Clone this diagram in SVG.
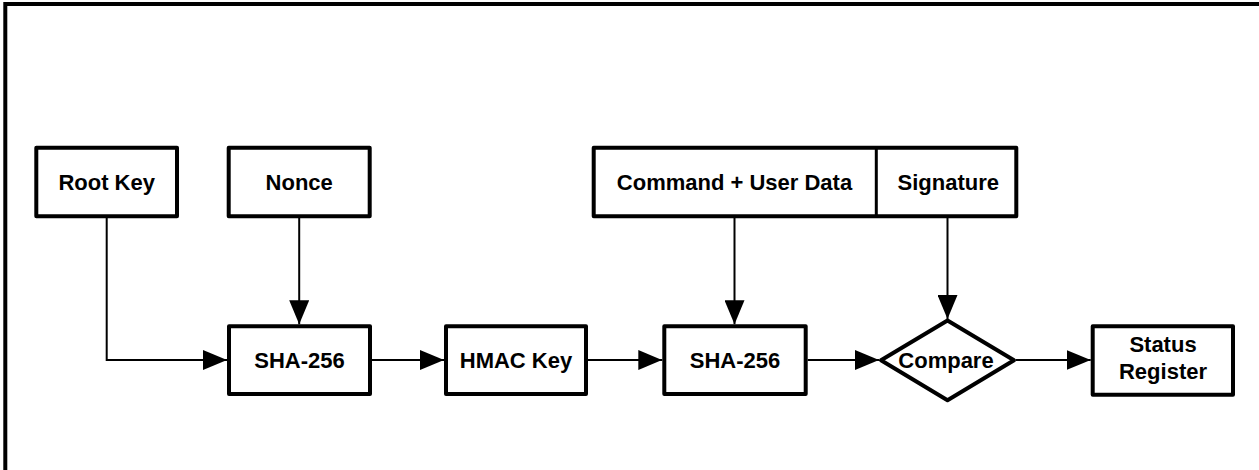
<svg xmlns="http://www.w3.org/2000/svg" width="1259" height="470" viewBox="0 0 1259 470">
<style>
.box{fill:#fff;stroke:#000;stroke-width:4;stroke-linejoin:round}
.lbl{font-family:"Liberation Sans",Arial,sans-serif;font-weight:bold;font-size:22px;fill:#000;text-anchor:middle}
.con{fill:none;stroke:#000;stroke-width:2}
</style>
<defs>
<marker id="arr" markerUnits="userSpaceOnUse" markerWidth="24" markerHeight="20" refX="24" refY="10" orient="auto">
<polygon points="0,0 24,10 0,20" fill="#000"/>
</marker>
</defs>
<rect x="0" y="0" width="1259" height="470" fill="#fff"/>
<path d="M5.3,470 V4 H1259" fill="none" stroke="#000" stroke-width="4"/>
<g id="connectors">
<path class="con" d="M106.7,218 V360 H227" marker-end="url(#arr)"/>
<path class="con" d="M299.2,218 V324.3" marker-end="url(#arr)"/>
<path class="con" d="M372,360 H444" marker-end="url(#arr)"/>
<path class="con" d="M588,360 H662.3" marker-end="url(#arr)"/>
<path class="con" d="M734.5,218 V324.3" marker-end="url(#arr)"/>
<path class="con" d="M947.5,218 V319" marker-end="url(#arr)"/>
<path class="con" d="M807.7,360 H879" marker-end="url(#arr)"/>
<path class="con" d="M1016,360 H1090.7" marker-end="url(#arr)"/>
</g>
<g id="root-key">
<rect class="box" x="36.3" y="147.7" width="140.7" height="68.6"/>
<text class="lbl" x="106.7" y="190">Root Key</text>
</g>
<g id="nonce">
<rect class="box" x="228.7" y="147.7" width="141" height="68.6"/>
<text class="lbl" x="299.2" y="190">Nonce</text>
</g>
<g id="command-signature">
<rect class="box" x="593.7" y="147.7" width="422.6" height="68.6"/>
<line x1="876.3" y1="147.7" x2="876.3" y2="216.3" stroke="#000" stroke-width="3"/>
<text class="lbl" x="734.5" y="190">Command + User Data</text>
<text class="lbl" x="948.3" y="190">Signature</text>
</g>
<g id="sha256-1">
<rect class="box" x="229" y="326.3" width="141" height="67.6"/>
<text class="lbl" x="299.5" y="367.5">SHA-256</text>
</g>
<g id="hmac-key">
<rect class="box" x="446" y="326.3" width="140" height="67.6"/>
<text class="lbl" x="516" y="367.5">HMAC Key</text>
</g>
<g id="sha256-2">
<rect class="box" x="664.3" y="326.3" width="141.4" height="67.6"/>
<text class="lbl" x="735" y="367.5">SHA-256</text>
</g>
<g id="compare">
<polygon class="box" points="947.5,320.5 1014,360.3 947.5,400.2 881,360.3"/>
<text class="lbl" x="946" y="367.5">Compare</text>
</g>
<g id="status-register">
<rect class="box" x="1092.7" y="326.3" width="140.3" height="68.4"/>
<text class="lbl" x="1163" y="352.3">Status</text>
<text class="lbl" x="1163" y="379.3">Register</text>
</g>
</svg>
